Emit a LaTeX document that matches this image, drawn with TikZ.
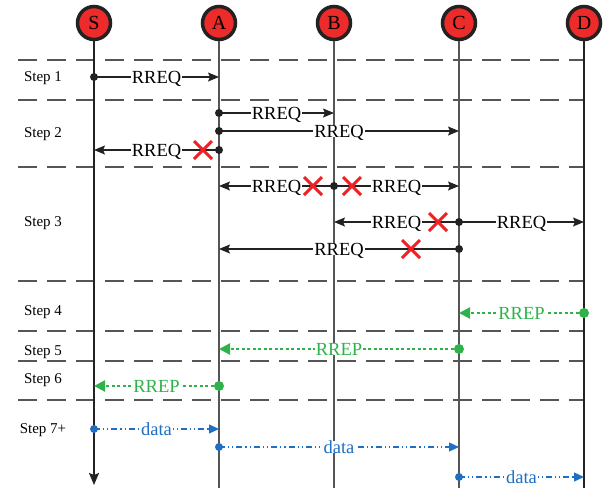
\documentclass[tikz,border=0pt]{standalone}
\usepackage{fontspec}
\setmainfont{Liberation Serif}
\usetikzlibrary{arrows.meta}
\definecolor{nodered}{HTML}{EE2B2B}
\definecolor{xred}{HTML}{EC2227}
\definecolor{rrepgreen}{HTML}{2DB34A}
\definecolor{datablue}{HTML}{1F6FC5}
\definecolor{linegray}{HTML}{555555}
\definecolor{ink}{HTML}{222222}
\tikzset{
  actor/.style={circle,draw=ink,line width=3.5pt,fill=nodered,minimum size=33pt,inner sep=0pt,font=\fontsize{20}{22}\selectfont},
  life/.style={draw=linegray,line width=1.5pt},
  lifedark/.style={draw=ink,line width=1.5pt},
  sepline/.style={draw=linegray,line width=1.5pt,dash pattern=on 19pt off 10pt},
  steplbl/.style={font=\fontsize{15}{17}\selectfont,inner sep=0pt},
  msg/.style={draw=ink,line width=1.3pt,-{Stealth[length=11pt,width=9pt,inset=2pt]}},
  msglbl/.style={fill=white,inner xsep=1pt,inner ysep=0pt,text depth=0pt,pos=0.5,font=\fontsize{18.5}{20}\selectfont},
  dotblack/.style={circle,fill=ink,inner sep=0pt,minimum size=8pt},
  rrep/.style={draw=rrepgreen,line width=2.2pt,dash pattern=on 3pt off 2.5pt,-{Triangle[length=11pt,width=11pt]}},
  rreplbl/.style={msglbl,text=rrepgreen},
  dotgreen/.style={circle,fill=rrepgreen,inner sep=0pt,minimum size=10pt},
  datamsg/.style={draw=datablue,line width=1.2pt,dash pattern=on 6pt off 3pt on 1.2pt off 3pt on 1.2pt off 3pt,-{Triangle[length=10pt,width=9pt]}},
  datalbl/.style={msglbl,text=datablue},
  dotblue/.style={circle,fill=datablue,inner sep=0pt,minimum size=8pt},
  nogo/.pic={\draw[xred,line width=3pt] (-9,-9) -- (9,9) (-9,9) -- (9,-9);}
}
\begin{document}
\begin{tikzpicture}[x=1pt,y=-1pt]
\useasboundingbox (0,0) rectangle (606,488);
% separators
\foreach \yy [count=\i] in {60,100,167,281,331,361,400}{
  \coordinate (sl\i) at (18,\yy);
  \coordinate (sr\i) at (584,\yy);
  \draw[sepline] (sl\i) -- (sr\i);
}
% actors
\node[actor] (S) at (94,23) {S};
\node[actor] (A) at (219,23) {A};
\node[actor] (B) at (334,23) {B};
\node[actor] (C) at (459,23) {C};
\node[actor] (D) at (584,23) {D};
\coordinate (Send) at (94,485);
\coordinate (Aend) at (219,488);
\coordinate (Bend) at (334,488);
\coordinate (Cend) at (459,488);
\coordinate (Dend) at (584,488);
\draw[lifedark,-{Stealth[length=12pt,width=10pt,inset=2pt]}] (S) -- (Send);
\draw[life] (A) -- (Aend);
\draw[life] (B) -- (Bend);
\draw[life] (C) -- (Cend);
\draw[lifedark] (D) -- (Dend);
% step labels
\node[steplbl] (st1) at (43,78) {Step 1};
\node[steplbl] (st2) at (43,134) {Step 2};
\node[steplbl] (st3) at (43,223) {Step 3};
\node[steplbl] (st4) at (43,312) {Step 4};
\node[steplbl] (st5) at (43,352) {Step 5};
\node[steplbl] (st6) at (43,380) {Step 6};
\node[steplbl] (st7) at (43,430) {Step 7+};
% step 1
\coordinate (s1S) at (94,77); \coordinate (s1A) at (219,77);
\draw[msg] (s1S) -- node[msglbl] {RREQ} (s1A);
\node[dotblack] (d1) at (s1S) {};
% step 2
\coordinate (s2aA) at (219,113); \coordinate (s2aB) at (334,113);
\draw[msg] (s2aA) -- node[msglbl] {RREQ} (s2aB);
\node[dotblack] (d2a) at (s2aA) {};
\coordinate (s2bA) at (219,131); \coordinate (s2bC) at (459,131);
\draw[msg] (s2bA) -- node[msglbl] {RREQ} (s2bC);
\node[dotblack] (d2b) at (s2bA) {};
\coordinate (s2cA) at (219,150); \coordinate (s2cS) at (94,150);
\draw[msg] (s2cA) -- node[msglbl] {RREQ} (s2cS);
\node[dotblack] (d2c) at (s2cA) {};
\pic at (203,150) {nogo};
% step 3
\coordinate (s3aB) at (334,186); \coordinate (s3aA) at (219,186); \coordinate (s3aC) at (459,186);
\draw[msg] (s3aB) -- node[msglbl] {RREQ} (s3aA);
\draw[msg] (s3aB) -- node[msglbl] {RREQ} (s3aC);
\node[dotblack] (d3a) at (s3aB) {};
\pic at (313,186) {nogo};
\pic at (352,186) {nogo};
\coordinate (s3bC) at (459,222); \coordinate (s3bB) at (334,222); \coordinate (s3bD) at (584,222);
\draw[msg] (s3bC) -- node[msglbl] {RREQ} (s3bB);
\draw[msg] (s3bC) -- node[msglbl] {RREQ} (s3bD);
\node[dotblack] (d3b) at (s3bC) {};
\pic at (438,222) {nogo};
\coordinate (s3cC) at (459,249); \coordinate (s3cA) at (219,249);
\draw[msg] (s3cC) -- node[msglbl] {RREQ} (s3cA);
\node[dotblack] (d3c) at (s3cC) {};
\pic at (411,249) {nogo};
% step 4-6
\coordinate (s4D) at (584,313); \coordinate (s4C) at (459,313);
\draw[rrep] (s4D) -- node[rreplbl] {RREP} (s4C);
\node[dotgreen] (d4) at (s4D) {};
\coordinate (s5C) at (459,349); \coordinate (s5A) at (219,349);
\draw[rrep] (s5C) -- node[rreplbl] {RREP} (s5A);
\node[dotgreen] (d5) at (s5C) {};
\coordinate (s6A) at (219,386); \coordinate (s6S) at (94,386);
\draw[rrep] (s6A) -- node[rreplbl] {RREP} (s6S);
\node[dotgreen] (d6) at (s6A) {};
% step 7
\coordinate (s7aS) at (94,429); \coordinate (s7aA) at (219,429);
\draw[datamsg] (s7aS) -- node[datalbl] {data} (s7aA);
\node[dotblue] (d7a) at (s7aS) {};
\coordinate (s7bA) at (219,447); \coordinate (s7bC) at (459,447);
\draw[datamsg] (s7bA) -- node[datalbl] {data} (s7bC);
\node[dotblue] (d7b) at (s7bA) {};
\coordinate (s7cC) at (459,477); \coordinate (s7cD) at (584,477);
\draw[datamsg] (s7cC) -- node[datalbl] {data} (s7cD);
\node[dotblue] (d7c) at (s7cC) {};
\end{tikzpicture}
\end{document}
